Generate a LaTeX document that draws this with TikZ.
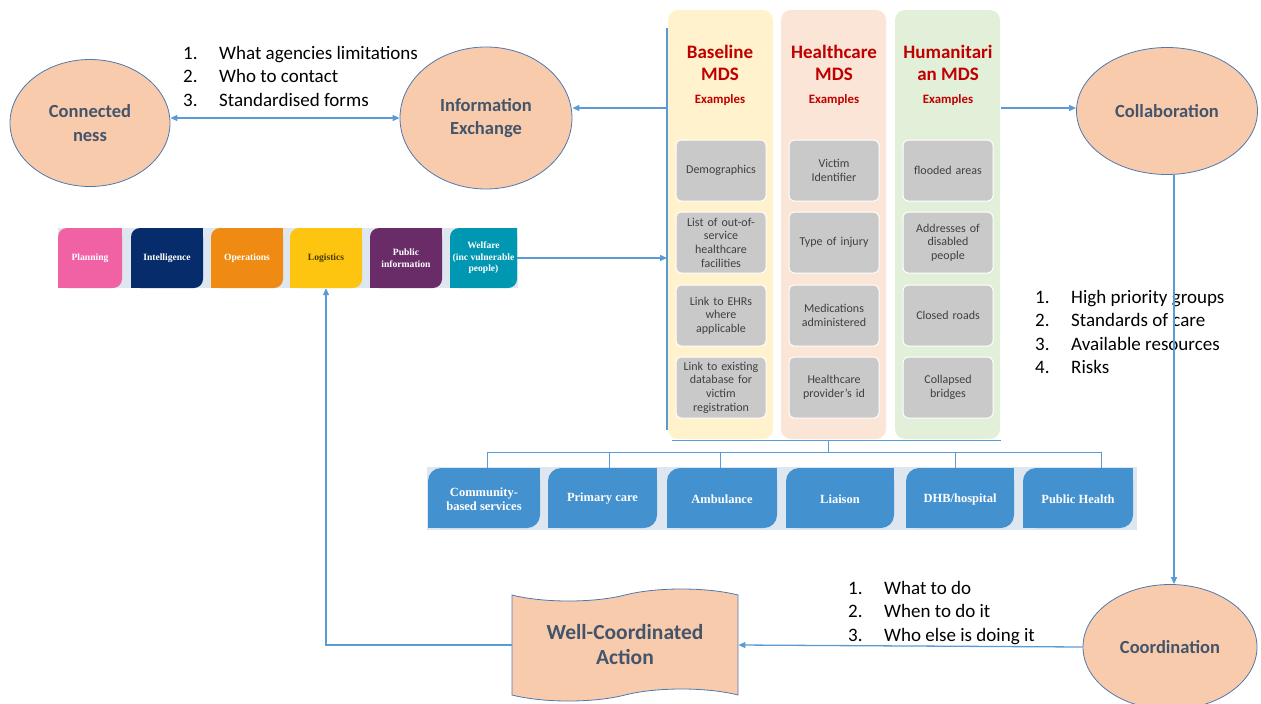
\documentclass[tikz,border=0pt]{standalone}
\usepackage{fontspec}
\setmainfont{Carlito}
\newfontfamily\barfont{Liberation Serif}
\usetikzlibrary{arrows.meta,shapes.geometric,shapes.symbols}

\definecolor{peach}{HTML}{F8CBAD}
\definecolor{rimblue}{HTML}{4F79AE}
\definecolor{slate}{HTML}{44546A}
\definecolor{linkblue}{HTML}{5B9BD5}
\definecolor{mdsred}{HTML}{C00000}
\definecolor{baseyel}{HTML}{FFF2CC}
\definecolor{healpch}{HTML}{FBE5D6}
\definecolor{humgrn}{HTML}{E2F0D9}
\definecolor{cellgray}{HTML}{C9C9C9}
\definecolor{celltext}{HTML}{404040}
\definecolor{servblue}{HTML}{4391CF}
\definecolor{stripbg}{HTML}{DEE6F0}
\definecolor{planpink}{HTML}{F062A4}
\definecolor{intnavy}{HTML}{062C6B}
\definecolor{opsorange}{HTML}{EF8A12}
\definecolor{logyellow}{HTML}{FDC50F}
\definecolor{pubpurple}{HTML}{6A2C68}
\definecolor{welteal}{HTML}{0097B2}
\definecolor{logtext}{HTML}{4A3A00}

% box with top-left and bottom-right corners rounded
\newcommand{\cutbox}[6]{%
  \fill[#1,rounded corners=#6pt] (#2,#3) rectangle (#4,#5);
  \fill[#1] ({#4-#6},#3) rectangle (#4,{#3+#6});
  \fill[#1] (#2,{#5-#6}) rectangle ({#2+#6},#5);}
\newcommand{\itemno}[1]{\makebox[36pt][l]{#1}}

\begin{document}
\begin{tikzpicture}[x=1pt,y=-1pt,
  link/.style={draw=linkblue,line width=1.3pt},
  tip/.style={-{Triangle[length=7pt,width=6pt]}},
  bubble/.style={ellipse,draw=rimblue,line width=0.8pt,fill=peach,text=slate,
    font=\fontsize{18.5}{23.5}\selectfont\bfseries,align=center,inner sep=0pt},
  cell/.style={rectangle,rounded corners=5pt,fill=cellgray,draw=white,line width=1pt,
    minimum width=85pt,minimum height=61pt,text width=90pt,align=center,
    text=celltext,font=\fontsize{12}{13.7}\selectfont,inner sep=0pt},
  mdstitle/.style={text=mdsred,align=center,font=\fontsize{19}{22}\selectfont\bfseries},
  mdssub/.style={text=mdsred,font=\fontsize{12.8}{14}\selectfont\bfseries},
  bartxt/.style={align=center,font=\barfont\fontsize{9.6}{11.5}\selectfont\bfseries,inner sep=0pt},
  svctxt/.style={align=center,text=white,font=\barfont\fontsize{12.5}{13.5}\selectfont\bfseries,inner sep=0pt},
  lst/.style={align=left,inner sep=0pt,font=\fontsize{19}{23.5}\selectfont}]
\useasboundingbox (0,0) rectangle (1261,704);

% MDS columns
\foreach \xa/\col in {668/baseyel,781/healpch,895/humgrn}
  \fill[\col,rounded corners=10pt] (\xa,10) rectangle ({\xa+105},439);
\node[mdstitle] (baseT) at (720,63) {Baseline\\MDS};
\node[mdstitle] (healT) at (834,63) {Healthcare\\MDS};
\node[mdstitle] (humT) at (948,63) {Humanitari\\an MDS};
\foreach \x/\nm in {720/base,834/heal,948/hum}
  \node[mdssub] (\nm X) at (\x,100) {Examples};
\foreach \j/\y/\txt in {1/170.5/Demographics,
    2/242.5/{List of out-of-\\service\\healthcare\\facilities},
    3/315.5/{Link to EHRs\\where\\applicable},
    4/387.5/{Link to existing\\database for\\victim\\registration}}
  \node[cell] (base\j) at (721,\y) {\txt};
\foreach \j/\y/\txt in {1/170.5/{Victim\\Identifier},2/242.5/Type of injury,
    3/315.5/{Medications\\administered},4/387.5/{Healthcare\\provider’s id}}
  \node[cell] (heal\j) at (834,\y) {\txt};
\foreach \j/\y/\txt in {1/170.5/flooded areas,2/242.5/{Addresses of\\disabled\\people},
    3/315.5/Closed roads,4/387.5/{Collapsed\\bridges}}
  \node[cell] (hum\j) at (948,\y) {\txt};

% bubbles
\node[bubble,minimum width=160pt,minimum height=127pt] (conn) at (90,123) {Connected\\ness};
\node[bubble,minimum width=172pt,minimum height=142pt] (info) at (486,118) {Information\\Exchange};
\node[bubble,minimum width=181pt,minimum height=127pt] (collab) at (1167,111) {Collaboration};
\node[bubble,minimum width=174pt,minimum height=125pt] (coord) at (1170,647) {Coordination};
\node[tape,tape bend top=in and out,tape bend bottom=in and out,tape bend height=12pt,
  draw=rimblue,line width=0.8pt,fill=peach,text=slate,align=center,
  font=\fontsize{21.5}{25}\selectfont\bfseries,minimum width=226pt,minimum height=112pt]
  (action) at (625,645) {Well-Coordinated\\Action};

% lists
\node[lst,anchor=north west] (ask) at (183,46) {\itemno{1.}What agencies limitations\\
  \itemno{2.}Who to contact\\\itemno{3.}Standardised forms};
\node[lst,anchor=north west] (agree) at (1035,290) {\itemno{1.}High priority groups\\
  \itemno{2.}Standards of care\\\itemno{3.}Available resources\\\itemno{4.}Risks};
\node[lst,anchor=north west] (plan) at (848,581) {\itemno{1.}What to do\\
  \itemno{2.}When to do it\\\itemno{3.}Who else is doing it};

% functions bar
\fill[stripbg] (58,228) rectangle (518,288);
\foreach \nm/\xa/\xb/\col/\tc/\txt in {pln/58/122/planpink/white/Planning,
    intl/131/203/intnavy/white/Intelligence,ops/211/283/opsorange/white/Operations,
    logi/290/362/logyellow/logtext/Logistics,pub/370/442/pubpurple/white/{Public\\information},
    welf/450/517/welteal/white/{Welfare\\(inc vulnerable\\people)}}{
  \cutbox{\col}{\xa}{228}{\xb}{288}{9}
  \node[bartxt,text=\tc,minimum width={\xb-\xa},minimum height=60pt] (\nm) at ({(\xa+\xb)/2},258) {\txt};
}

% services
\fill[stripbg] (427,467) rectangle (1137,530);
\foreach \i/\xa/\xb/\txt in {1/428/540/{Community-\\based services},2/548/657/Primary care,
    3/667/777/Ambulance,4/786/894/Liaison,5/906/1014/{DHB/hospital},6/1023/1133/Public Health}{
  \cutbox{servblue}{\xa}{468}{\xb}{528}{13}
  \node[svctxt,minimum width={\xb-\xa},minimum height=60pt] (svc\i) at ({(\xa+\xb)/2},499) {\txt};
}

% connectors
\coordinate (baseL) at (667,108);
\coordinate (humR) at (1001,108);
\coordinate (split) at (828,452);
\draw[link,{Triangle[length=7pt,width=6pt]}-{Triangle[length=7pt,width=6pt]}] (info.west -| conn.east) -- (info.west);
\draw[link] (667,28) -- (667,430);
\draw[link,tip] (baseL) -- (baseL -| info.east);
\draw[link,tip] (humR) -- (humR -| collab.west);
\draw[link,tip] ([xshift=7pt]collab.south) -- ([xshift=4pt]coord.north);
\draw[link,tip] (coord.west) -- (action.east);
\draw[link,tip] (action.west) -| (logi.south);
\draw[link,tip] (welf.east) -- (welf.east -| baseL);
\draw[link,line width=0.9pt] (672,440) -- (1001,440) (828,440) -- (split);
\draw[link,line width=0.9pt] (487,452) -- (1101,452);
\foreach \x in {487,609,720,955,1101}
  \draw[link,line width=0.9pt] (\x,452) -- (\x,468);
\end{tikzpicture}
\end{document}
